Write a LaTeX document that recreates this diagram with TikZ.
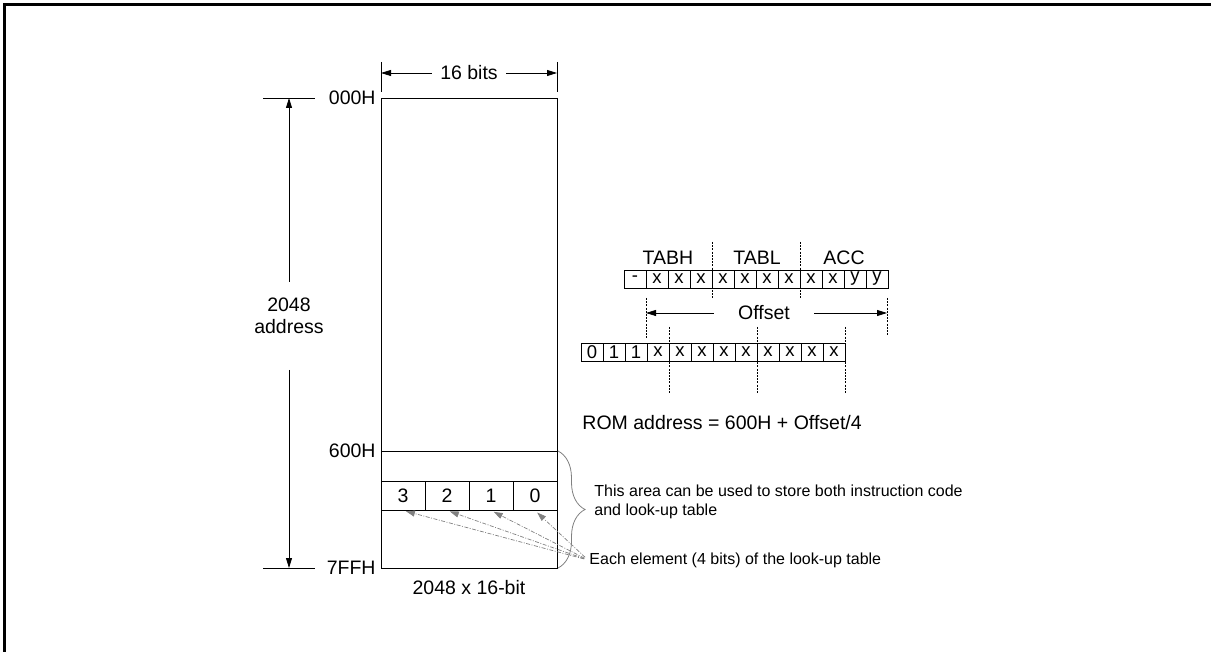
\documentclass[tikz,border=0pt]{standalone}
\usepackage{fontspec}
\setmainfont{Liberation Sans}
\usetikzlibrary{arrows.meta, positioning, calc, decorations.pathreplacing}
\tikzset{
  lbl/.style={font=\fontsize{19.5}{22}\selectfont, inner sep=1pt},
  note/.style={font=\fontsize{16}{19}\selectfont, align=left, inner sep=1pt},
  bitcell/.style={draw, line width=0.8pt, minimum width=22pt, minimum height=18pt, inner sep=0pt,
    font=\fontsize{18.5}{18}\selectfont},
  romcell/.style={draw, line width=0.9pt, minimum width=44pt, minimum height=29pt, inner sep=0pt,
    font=\fontsize{19.5}{22}\selectfont},
  arr/.style={-{Triangle[length=10pt, width=6pt]}, line width=0.8pt},
  divider/.style={line width=0.7pt, dash pattern=on 2pt off 1.2pt},
  elemarr/.style={gray, line width=0.7pt, dash pattern=on 4pt off 1.5pt on 1pt off 1.5pt,
    -{Triangle[length=9pt, width=6pt]}},
}

\begin{document}
\begin{tikzpicture}[x=1pt, y=-1pt, line width=0.9pt]
    \clip (0,0) rectangle (1211,652);
    % frame
    \draw[line width=2.2pt] (4.5,670) -- (4.5,4.5) -- (1230,4.5);

    % ROM block
    \draw (381,98) rectangle (557,568);
    \draw (381,451) -- (557,451);
    \foreach \v [count=\i] in {3,2,1,0}
      \node[romcell] (c\v) at ({359+44*\i},495.5) {\v};
    \node[lbl] (size) at (469,588) {2048 x 16-bit};

    % address range
    \draw (263,98) -- (315,98);
    \draw (263,568) -- (315,568);
    \node[lbl, anchor=east] (a000) at (377,98) {000H};
    \node[lbl, anchor=east] (a600) at (377,451) {600H};
    \node[lbl, anchor=east] (a7ff) at (377,568) {7FFH};
    \node[lbl, align=center] (span) at (289,316) {2048\\address};
    \coordinate (spanTop) at (289,98);
    \coordinate (spanBot) at (289,568);
    \coordinate (gapTop) at (289,282);
    \coordinate (gapBot) at (289,370);
    \draw[arr] (gapTop) -- (spanTop);
    \draw[arr] (gapBot) -- (spanBot);

    % width
    \draw (381,62) -- (381,92);
    \draw (557,62) -- (557,92);
    \node[lbl, inner xsep=8pt] (width) at (469,73) {16 bits};
    \coordinate (wL) at (381,73);
    \coordinate (wR) at (557,73);
    \draw[arr] (width) -- (wL);
    \draw[arr] (width) -- (wR);

    % table pointer registers
    \foreach \b [count=\i] in {-,x,x,x,x,x,x,x,x,x,y,y}
      \node[bitcell] (hi\i) at ({613+22*\i},279) {\b};
    \node[lbl] (tabh) at (668,258) {TABH};
    \node[lbl] (tabl) at (757,258) {TABL};
    \node[lbl] (acc) at (844,258) {ACC};
    \draw[divider] (712,242) -- (712,298);
    \draw[divider] (800,242) -- (800,298);

    % offset
    \draw[divider] (646,298) -- (646,338);
    \draw[divider] (887,298) -- (887,336);
    \node[lbl, inner xsep=24pt] (offset) at (764,313) {Offset};
    \coordinate (offL) at (646,313);
    \coordinate (offR) at (887,313);
    \draw[arr] (offset) -- (offL);
    \draw[arr] (offset) -- (offR);

    % ROM address
    \foreach \b [count=\i] in {0,1,1,x,x,x,x,x,x,x,x,x}
      \node[bitcell] (lo\i) at ({570+22*\i},352) {\b};
    \foreach \i in {4,8,12}
      \draw[divider] ($(lo\i.east)+(0,-25)$) -- ($(lo\i.east)+(0,42)$);
    \node[lbl, anchor=west] (rom) at (581,423) {ROM address = 600H + Offset/4};

    % notes
    \draw[gray, line width=0.8pt, decorate, decoration={brace, amplitude=27pt}] (558,451) -- (558,568);
    \node[note, anchor=west] (area) at (593,502) {This area can be used to store both instruction code\\and look-up table};
    \node[note, anchor=west] (each) at (588,560) {Each element (4 bits) of the look-up table};
    \foreach \v in {3,2,1,0}
      \draw[elemarr, shorten <=4pt, shorten >=3pt] (each.west) -- (c\v.south);
\end{tikzpicture}
\end{document}
